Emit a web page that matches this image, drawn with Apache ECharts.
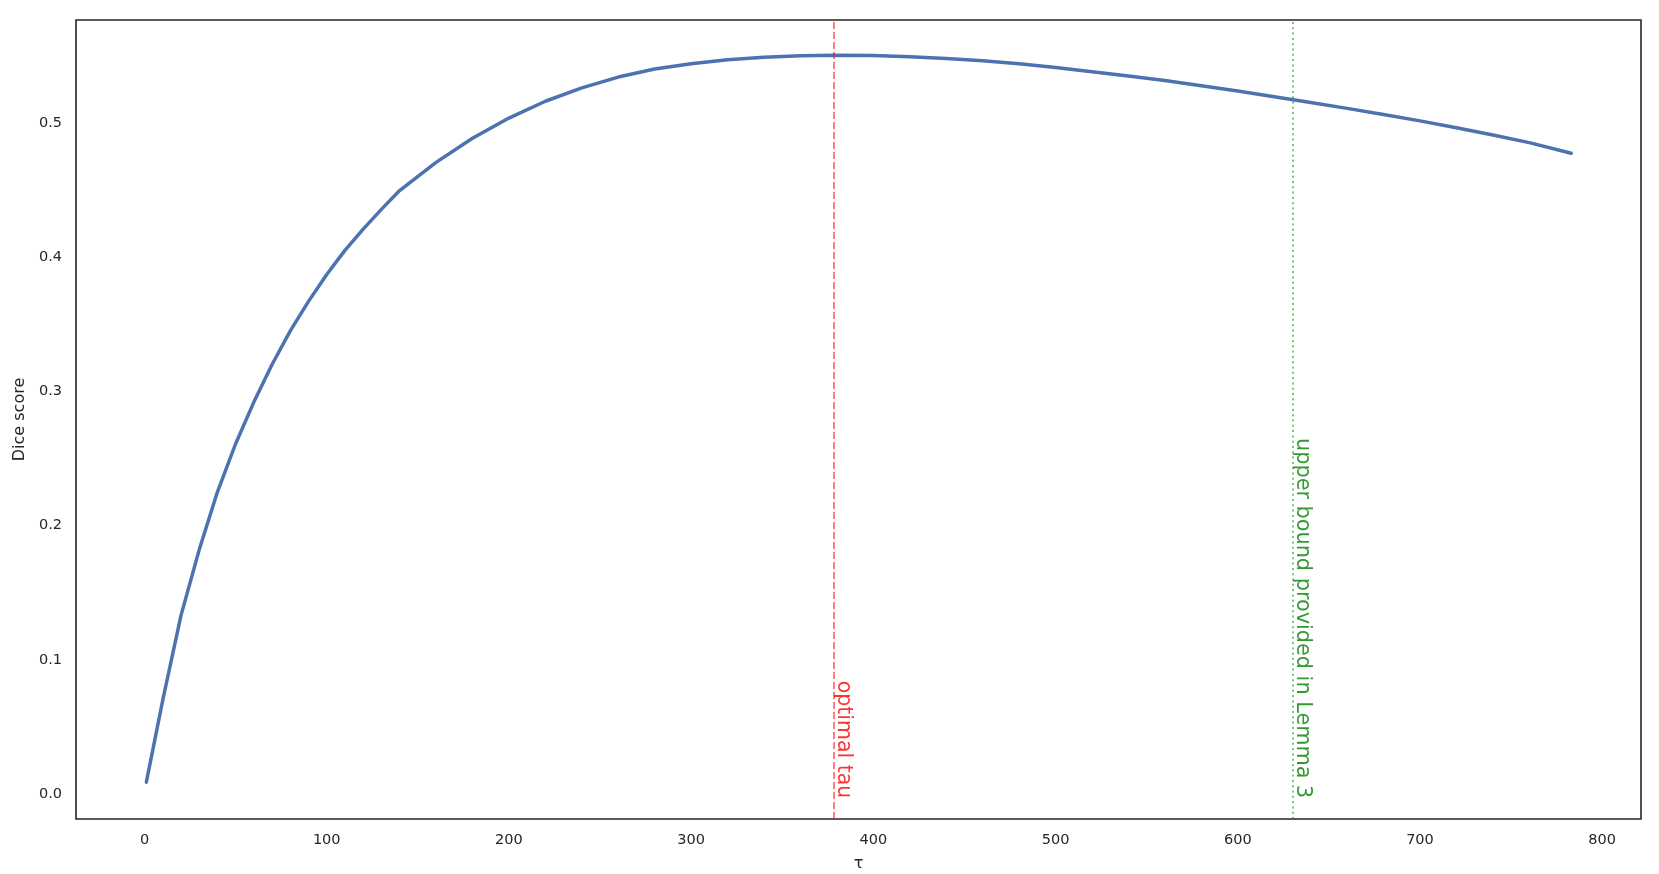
<!DOCTYPE html>
<html>
<head>
<meta charset="utf-8">
<script src="https://cdn.jsdelivr.net/npm/echarts@6/dist/echarts.min.js"></script>
<style>
html,body{margin:0;padding:0;background:#fff;}
#chart{width:1659px;height:874px;}
</style>
</head>
<body>
<div id="chart"></div>
<script>
// ---- data ----
var tau = [1, 10, 20, 30, 40, 50, 60, 70, 80, 90, 100, 110, 120, 130, 140, 160, 180, 200, 220, 240, 260, 280, 300, 320, 340, 360, 378, 400, 420, 440, 460, 480, 500, 520, 540, 560, 580, 600, 620, 640, 660, 680, 700, 720, 740, 760, 783];
var dice = [0.009, 0.070, 0.133, 0.182, 0.225, 0.261, 0.292, 0.320, 0.345, 0.367, 0.387, 0.405, 0.4208, 0.4355, 0.4495, 0.4705, 0.4885, 0.5035, 0.516, 0.526, 0.534, 0.540, 0.5440, 0.5469, 0.5488, 0.5499, 0.5503, 0.5500, 0.5492, 0.5479, 0.5462, 0.5439, 0.5411, 0.5380, 0.5348, 0.5314, 0.5276, 0.5236, 0.5194, 0.5151, 0.5107, 0.5061, 0.5014, 0.4963, 0.4909, 0.4852, 0.4773];
var optimalTau = 378;
var upperBoundTau = 630;
var optimalLabel = 'optimal tau';
var upperBoundLabel = 'upper bound provided in Lemma 3';
var xTicks = [0, 100, 200, 300, 400, 500, 600, 700, 800];
var yTicks = [0.0, 0.1, 0.2, 0.3, 0.4, 0.5];
var xRange = [-37.6, 821.3];
var yRange = [-0.0184, 0.5765];

var FONT = 'DejaVu Sans';
var lineData = tau.map(function (t, i) { return [t, dice[i]]; });

function annotation(xVal, text, color, size) {
  return {
    type: 'scatter',
    silent: true,
    symbolSize: 1,
    itemStyle: {color: 'rgba(0,0,0,0)'},
    data: [[xVal, 0]],
    label: {
      show: true, position: [0, 4.5], rotate: -90,
      align: 'right', verticalAlign: 'bottom',
      formatter: text,
      fontFamily: FONT, fontSize: size, color: color
    },
    z: 5
  };
}

var chart = echarts.init(document.getElementById('chart'), null, {renderer: 'canvas'});
chart.setOption({
  animation: false,
  backgroundColor: '#ffffff',
  grid: {
    left: 76, right: 18, top: 20, bottom: 55,
    outerBoundsMode: 'none',
    containLabel: false,
    show: true, borderColor: '#262626', borderWidth: 1.6,
    backgroundColor: 'transparent'
  },
  xAxis: {
    type: 'value',
    min: xRange[0], max: xRange[1],
    name: 'τ', nameLocation: 'middle', nameGap: 37,
    nameTextStyle: {fontFamily: FONT, fontSize: 16, color: '#262626'},
    axisLine: {show: false},
    axisTick: {show: false},
    splitLine: {show: false},
    axisLabel: {
      customValues: xTicks,
      fontFamily: FONT, fontSize: 14.5, color: '#262626', margin: 14,
      formatter: function (v) { return String(Math.round(v)); }
    }
  },
  yAxis: {
    type: 'value',
    min: yRange[0], max: yRange[1],
    name: 'Dice score', nameLocation: 'middle', nameGap: 39,
    nameTextStyle: {fontFamily: FONT, fontSize: 16, color: '#262626'},
    axisLine: {show: false},
    axisTick: {show: false},
    splitLine: {show: false},
    axisLabel: {
      customValues: yTicks,
      fontFamily: FONT, fontSize: 14.5, color: '#262626', margin: 14,
      formatter: function (v) { return v.toFixed(1); }
    }
  },
  series: [
    {
      type: 'line',
      data: lineData,
      showSymbol: false,
      symbol: 'none',
      smooth: false,
      silent: true,
      lineStyle: {color: '#4c72b0', width: 3.5, cap: 'round', join: 'round'},
      z: 3,
      markLine: {
        silent: true,
        symbol: ['none', 'none'],
        label: {show: false},
        data: [
          {xAxis: optimalTau, lineStyle: {color: 'rgba(255,0,0,0.5)', width: 2, type: [7, 3]}},
          {xAxis: upperBoundTau, lineStyle: {color: 'rgba(0,128,0,0.5)', width: 2, type: [2, 3.3]}}
        ]
      }
    },
    annotation(optimalTau, optimalLabel, '#ff0000', 20.5),
    annotation(upperBoundTau, upperBoundLabel, '#008000', 20.8)
  ]
});
</script>
</body>
</html>
